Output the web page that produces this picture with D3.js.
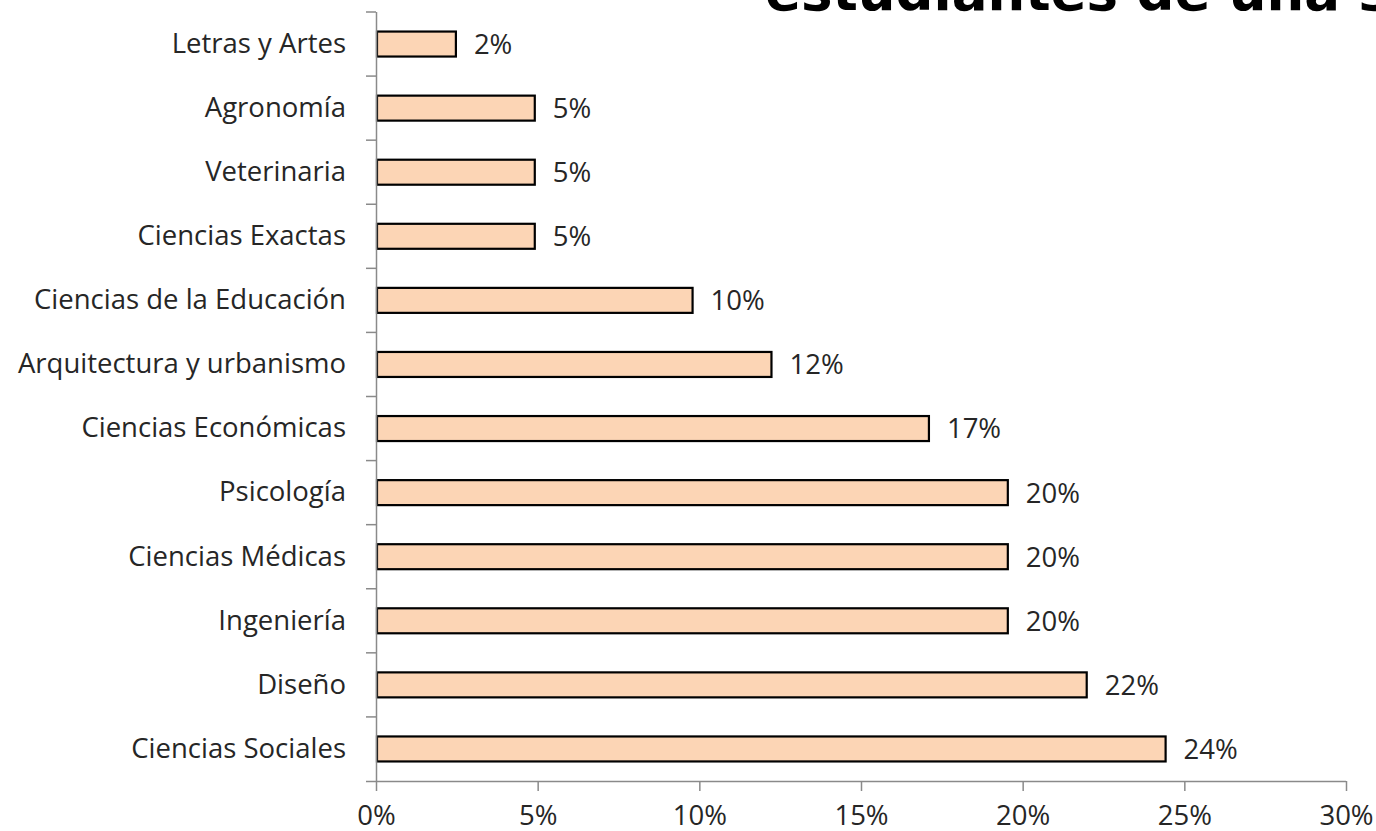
<!DOCTYPE html>
<html>
<head>
<meta charset="utf-8">
<script src="https://cdn.jsdelivr.net/npm/d3@7"></script>
<style>
  body { margin: 0; background: #fff; }
  svg { display: block; }
</style>
</head>
<body>
<div id="chart"></div>
<script>
// data, top to bottom as in the chart
const categories = [
  'Letras y Artes', 'Agronomía', 'Veterinaria', 'Ciencias Exactas',
  'Ciencias de la Educación', 'Arquitectura y urbanismo', 'Ciencias Económicas',
  'Psicología', 'Ciencias Médicas', 'Ingeniería', 'Diseño', 'Ciencias Sociales'
];
const values = [0.0244, 0.0488, 0.0488, 0.0488, 0.0976, 0.122, 0.1707,
  0.1951, 0.1951, 0.1951, 0.2195, 0.2439];
const xTicks = [0, 0.05, 0.10, 0.15, 0.20, 0.25, 0.30];
const titleText = 'estudiantes de una s';

const W = 1376, H = 831;
const margin = { top: 12, left: 376, right: 30, bottom: 50 };
const width = W - margin.left - margin.right;
const height = H - margin.top - margin.bottom;
const font = '"Open Sans", "Noto Sans", sans-serif';
const fontSize = 27.5;
const textColor = '#262626';
const axisColor = '#8a8a8a';

const svg = d3.select('#chart')
  .append('svg')
  .attr('width', W)
  .attr('height', H);

// title, cut off by the top edge as in the picture
svg.append('text')
  .attr('x', 765)
  .attr('y', 10)
  .attr('font-family', '"DejaVu Sans", Verdana, sans-serif')
  .attr('font-weight', 'bold')
  .attr('font-size', 53)
  .attr('fill', '#000')
  .text(titleText);

const g = svg.append('g')
  .attr('transform', 'translate(' + margin.left + ',' + margin.top + ')');

const x = d3.scaleLinear()
  .domain([0, 0.30])
  .range([0, width]);

const y = d3.scaleBand()
  .domain(categories)
  .range([0, height])
  .paddingInner(0.61)
  .paddingOuter(0.305);

const data = categories.map((c, i) => ({ cat: c, v: values[i] }));

// bars
g.selectAll('rect.bar')
  .data(data)
  .enter().append('rect')
  .attr('class', 'bar')
  .attr('x', x(0) + 1)
  .attr('y', d => y(d.cat))
  .attr('width', d => x(d.v) - x(0))
  .attr('height', y.bandwidth())
  .attr('fill', '#fcd5b5')
  .attr('stroke', '#000')
  .attr('stroke-width', 2.2);

// value labels
g.selectAll('text.val')
  .data(data)
  .enter().append('text')
  .attr('class', 'val')
  .attr('x', d => x(d.v) + 19)
  .attr('y', d => y(d.cat) + y.bandwidth() / 2)
  .attr('dy', '0.36em')
  .attr('font-family', font)
  .attr('font-size', fontSize)
  .attr('fill', textColor)
  .text(d => d3.format('.0%')(d.v));

// x axis
const xAxis = g.append('g')
  .attr('transform', 'translate(0,' + height + ')')
  .call(d3.axisBottom(x).tickValues(xTicks).tickFormat(d3.format('.0%')).tickSize(10).tickSizeOuter(0).tickPadding(14));
xAxis.select('.domain').attr('stroke', axisColor).attr('stroke-width', 1.5)
  .attr('d', 'M-10,0.5H' + width);
xAxis.selectAll('.tick line').attr('stroke', axisColor).attr('stroke-width', 1.5);
xAxis.selectAll('.tick text')
  .attr('font-family', font)
  .attr('font-size', fontSize)
  .attr('fill', textColor);

// y axis (labels), ticks at category boundaries
const yAxis = g.append('g')
  .call(d3.axisLeft(y).tickSize(0).tickPadding(30));
yAxis.select('.domain').attr('stroke', axisColor).attr('stroke-width', 1.5)
  .attr('d', 'M0.5,0V' + height);
yAxis.selectAll('.tick text')
  .attr('font-family', font)
  .attr('font-size', fontSize)
  .attr('fill', textColor);

const bounds = d3.range(categories.length).map(i => i * y.step());
g.append('g').selectAll('line')
  .data(bounds)
  .enter().append('line')
  .attr('x1', -10).attr('x2', 0)
  .attr('y1', d => d).attr('y2', d => d)
  .attr('stroke', axisColor)
  .attr('stroke-width', 1.5);
</script>
</body>
</html>
